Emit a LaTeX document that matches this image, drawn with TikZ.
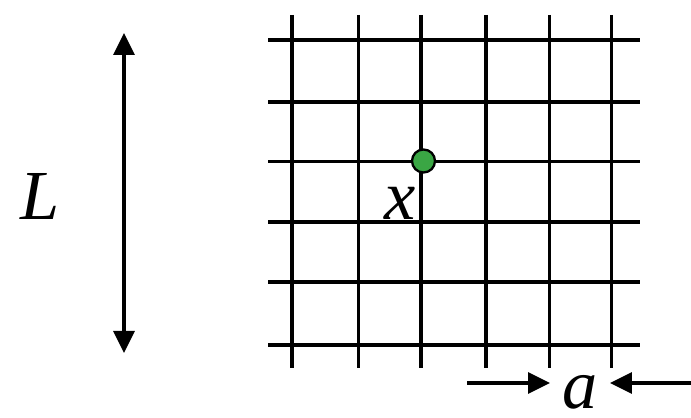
\documentclass[tikz,border=0pt]{standalone}
\usepackage{fontspec}
\setmainfont{Liberation Serif}
\usepackage{tikz}
\usetikzlibrary{arrows.meta}

\definecolor{sitegreen}{RGB}{58,166,68}

\begin{document}
\begin{tikzpicture}[x=0.02cm,y=-0.02cm,
    lab/.style={font=\fontsize{40}{48}\selectfont\itshape,inner sep=0pt,anchor=base},
    arr/.style={line width=2pt,-{Triangle[length=0.44cm,width=0.42cm]}}]
\useasboundingbox (0,0) rectangle (691,418);

% lattice
\foreach \x in {292,358.5,421,486,549.5,611.5}
  \draw[line width=2pt] (\x,15) -- (\x,368);
\foreach \y in {40,102,161.5,222,282,345}
  \draw[line width=2pt] (268,\y) -- (640,\y);

% site and labels
\node[circle,draw,line width=1.3pt,fill=sitegreen,minimum size=0.46cm,inner sep=0pt] (site) at (423.5,161) {};
\node[lab] (xlab) at (400,220) {x};
\node[lab] (Llab) at (40,220) {L};
\node[lab] (alab) at (580,409) {a};

% size of the lattice
\coordinate (Ltop) at (124,33);
\coordinate (Lbot) at (124,353);
\draw[line width=2pt,{Triangle[length=0.44cm,width=0.42cm]}-{Triangle[length=0.44cm,width=0.42cm]}] (Ltop) -- (Lbot);

% lattice spacing
\coordinate (aleft) at (467,383);
\coordinate (aleftend) at (550,383);
\coordinate (aright) at (691,383);
\coordinate (arightend) at (610,383);
\draw[arr] (aleft) -- (aleftend);
\draw[arr] (aright) -- (arightend);
\end{tikzpicture}
\end{document}
